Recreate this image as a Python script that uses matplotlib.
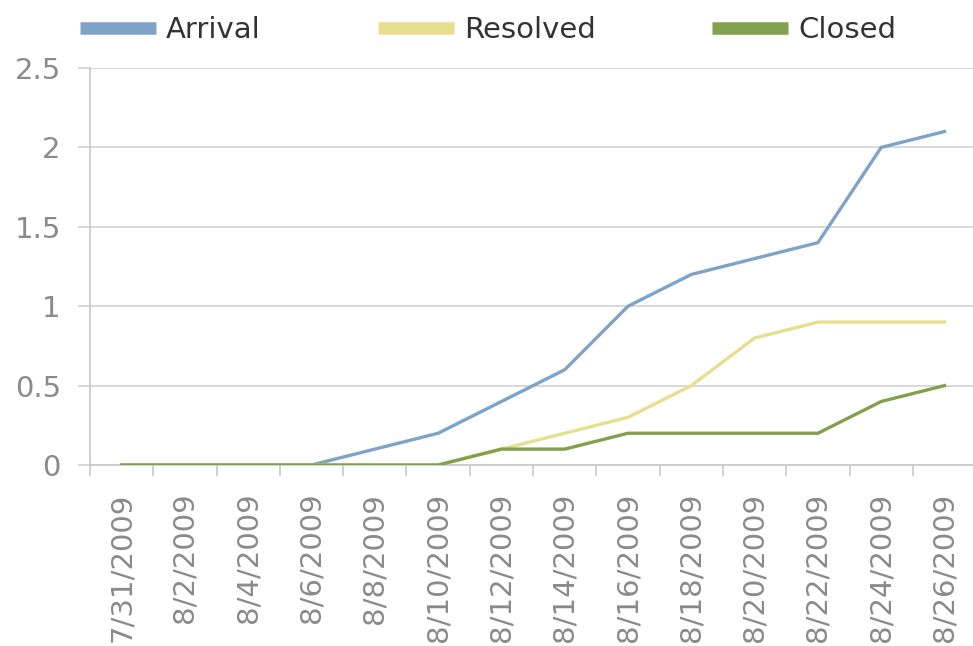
import numpy as np
import matplotlib
matplotlib.use("Agg")
import matplotlib.pyplot as plt
from matplotlib.lines import Line2D

# dates on the category axis (every second day)
dates = ['7/31/2009', '8/2/2009', '8/4/2009', '8/6/2009', '8/8/2009',
         '8/10/2009', '8/12/2009', '8/14/2009', '8/16/2009', '8/18/2009',
         '8/20/2009', '8/22/2009', '8/24/2009', '8/26/2009']

arrival = [0, 0, 0, 0, 0.1, 0.2, 0.4, 0.6, 1.0, 1.2, 1.3, 1.4, 2.0, 2.1]
resolved = [0, 0, 0, 0, 0, 0, 0.1, 0.2, 0.3, 0.5, 0.8, 0.9, 0.9, 0.9]
closed = [0, 0, 0, 0, 0, 0, 0.1, 0.1, 0.2, 0.2, 0.2, 0.2, 0.4, 0.5]

series_names = ['Arrival', 'Resolved', 'Closed']
c_arr = '#7FA3C6'
c_res = '#E8DF8E'
c_clo = '#82A04E'
grey = '#8A8A8A'

fig = plt.figure(figsize=(9.73, 6.46), dpi=100)
ax = fig.add_axes([90/973, 1 - 465/646, 1 - 90/973, (465 - 68)/646])

x = np.arange(len(dates))
ax.plot(x, arrival, color=c_arr, lw=2.4, zorder=3)
ax.plot(x, resolved, color=c_res, lw=2.4, zorder=4)
ax.plot(x, closed, color=c_clo, lw=2.4, zorder=5)

ax.set_xlim(-0.5, len(dates) - 0.55)
ax.set_ylim(0, 2.5)
ax.set_yticks([0, 0.5, 1, 1.5, 2, 2.5])
ax.set_yticklabels(['0', '0.5', '1', '1.5', '2', '2.5'])
ax.yaxis.grid(True, color='#D9D9D9', lw=1.5)
ax.set_axisbelow(True)

# ticks sit between the categories, labels at the categories
ax.set_xticks(x - 0.5, minor=False)
ax.set_xticklabels([])
ax.set_xticks(x, minor=True)
ax.set_xticklabels(dates, minor=True, rotation=90, va='top', ha='center')
ax.tick_params(axis='x', which='minor', length=0, pad=20, labelsize=21, labelcolor=grey)
ax.tick_params(axis='x', which='major', length=8, color='#C8C8C8', width=1.2)
ax.tick_params(axis='y', length=9, color='#D0D0D0', width=1.2, pad=12,
               labelsize=21, labelcolor=grey)

for s in ['top', 'right']:
    ax.spines[s].set_visible(False)
ax.spines['left'].set_color('#C8C8C8')
ax.spines['left'].set_linewidth(1.2)
ax.spines['bottom'].set_color('#C8C8C8')
ax.spines['bottom'].set_linewidth(1.2)

# one legend entry each, placed like the original
for name, col, xpos in zip(series_names, [c_arr, c_res, c_clo], [80, 378, 712]):
    h = Line2D([], [], color=col, lw=9, solid_capstyle='butt')
    fig.legend([h], [name], loc='center left',
               bbox_to_anchor=(xpos/973, 1 - 30/646), borderpad=0,
               borderaxespad=0, frameon=False, fontsize=21, handlelength=2.6,
               handletextpad=0.35, labelcolor='#333333')

fig.savefig('out.png', dpi=100)
